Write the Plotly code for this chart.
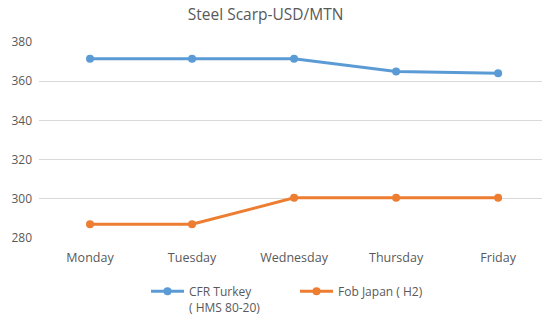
import plotly.graph_objects as go

days = ["Monday", "Tuesday", "Wednesday", "Thursday", "Friday"]
cfr_turkey = [371.5, 371.5, 371.5, 365, 364]
fob_japan = [287, 287, 300.5, 300.5, 300.5]
y_ticks = [280, 300, 320, 340, 360, 380]

fig = go.Figure()
fig.add_trace(go.Scatter(
    x=days, y=cfr_turkey, name="CFR Turkey<br>( HMS 80-20)",
    mode="lines+markers", line=dict(color="#5b9bd5", width=3),
    marker=dict(size=8, color="#5b9bd5")))
fig.add_trace(go.Scatter(
    x=days, y=fob_japan, name="Fob Japan ( H2)",
    mode="lines+markers", line=dict(color="#ed7d31", width=3),
    marker=dict(size=8, color="#ed7d31")))

fig.update_layout(
    width=542, height=322,
    margin=dict(l=39, r=0, t=42, b=82),
    paper_bgcolor="white", plot_bgcolor="white",
    font=dict(family="Open Sans, Liberation Sans, sans-serif", size=12, color="#595959"),
    title=dict(text="Steel Scarp-USD/MTN", x=0.49, xanchor="center", y=0.955, yanchor="middle",
               font=dict(size=15.5, color="#595959")),
    xaxis=dict(range=[-0.5, 4.43], showgrid=False, showline=False, ticks="",
               ticklabelstandoff=10, tickfont=dict(size=12.5, color="#595959")),
    yaxis=dict(range=[280, 380], tickvals=y_ticks, showgrid=True, gridcolor="#d9d9d9",
               gridwidth=1, zeroline=False, showline=False, ticks="",
               ticklabelstandoff=6, tickfont=dict(size=12, color="#595959")),
    legend=dict(orientation="h", x=0.509, xanchor="center", y=-0.2, yanchor="top",
                valign="top", entrywidth=101, entrywidthmode="pixels",
                font=dict(size=12, color="#595959"), itemwidth=33, traceorder="normal"),
    showlegend=True,
)

fig.write_html("out.html")
